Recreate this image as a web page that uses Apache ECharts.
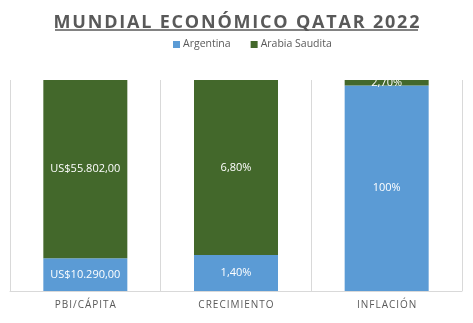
<!DOCTYPE html>
<html>
<head>
<meta charset="utf-8">
<script src="https://cdn.jsdelivr.net/npm/echarts@6/dist/echarts.min.js"></script>
<style>
  html, body { margin: 0; padding: 0; background: #fff; }
  #chart { width: 473px; height: 323px; }
</style>
</head>
<body>
<div id="chart"></div>
<script>
// Indicators compared between both countries
const categories = ['PBI/CÁPITA', 'CRECIMIENTO', 'INFLACIÓN'];
const argentina = [10290, 1.40, 100];
const arabiaSaudita = [55802, 6.80, 2.70];
const seriesNames = ['Argentina', 'Arabia Saudita'];
const titleText = 'MUNDIAL ECONÓMICO QATAR 2022';

// Spread letters apart with thin spaces
function spaced(s, sep) {
  return s.split('').join(sep);
}

// Spanish number format: '.' thousands, ',' decimals
function fmt(v, dec) {
  const parts = v.toFixed(dec).split('.');
  parts[0] = parts[0].replace(/\B(?=(\d{3})+(?!\d))/g, '.');
  return parts.length > 1 ? parts[0] + ',' + parts[1] : parts[0];
}

function labelFor(catIndex, v) {
  if (catIndex === 0) return 'US$' + fmt(v, 2);
  return (Number.isInteger(v) ? fmt(v, 0) : fmt(v, 2)) + '%';
}

// 100% stacked shares
const totals = argentina.map((v, i) => v + arabiaSaudita[i]);
const shareA = argentina.map((v, i) => v / totals[i] * 100);
const shareB = arabiaSaudita.map((v, i) => v / totals[i] * 100);
const raw = [argentina, arabiaSaudita];

const chart = echarts.init(document.getElementById('chart'), null, { renderer: 'canvas' });

const labelStyle = (si) => ({
  show: true,
  position: 'inside',
  color: '#ffffff',
  fontSize: 11,
  fontFamily: 'Open Sans, sans-serif',
  formatter: (p) => labelFor(p.dataIndex, raw[si][p.dataIndex])
});

chart.setOption({
  animation: false,
  title: {
    text: spaced(titleText, '\u200A'),
    left: 'center',
    top: 9,
    textStyle: {
      fontFamily: 'Open Sans, sans-serif',
      fontWeight: 'bold',
      fontSize: 18,
      color: '#595959'
    }
  },
  graphic: [{
    type: 'line',
    shape: { x1: 55, y1: 30, x2: 418, y2: 30 },
    style: { stroke: '#595959', lineWidth: 1.5 }
  }],
  legend: {
    data: seriesNames,
    top: 34,
    left: 168,
    itemWidth: 7,
    itemHeight: 7,
    itemGap: 20,
    icon: 'rect',
    textStyle: { fontFamily: 'Open Sans, sans-serif', fontSize: 10.5, color: '#595959', padding: [0, 0, 0, -2] }
  },
  grid: { left: 10, right: 11, top: 80, bottom: 32 },
  xAxis: {
    type: 'category',
    data: categories,
    axisLine: { lineStyle: { color: '#d9d9d9' } },
    axisTick: { show: false },
    splitLine: { show: true, lineStyle: { color: '#d9d9d9' } },
    axisLabel: {
      margin: 9,
      color: '#595959',
      fontSize: 10,
      fontFamily: 'Open Sans, sans-serif',
      formatter: (v) => spaced(v, '\u200A')
    }
  },
  yAxis: {
    type: 'value',
    min: 0,
    max: 100,
    show: false,
    splitLine: { show: false }
  },
  series: [
    {
      name: seriesNames[0],
      type: 'bar',
      stack: 'total',
      barWidth: 84,
      data: shareA,
      itemStyle: { color: '#5b9bd5' },
      label: labelStyle(0)
    },
    {
      name: seriesNames[1],
      type: 'bar',
      stack: 'total',
      barWidth: 84,
      data: shareB,
      itemStyle: { color: '#43682b' },
      label: labelStyle(1)
    }
  ]
});
</script>
</body>
</html>
